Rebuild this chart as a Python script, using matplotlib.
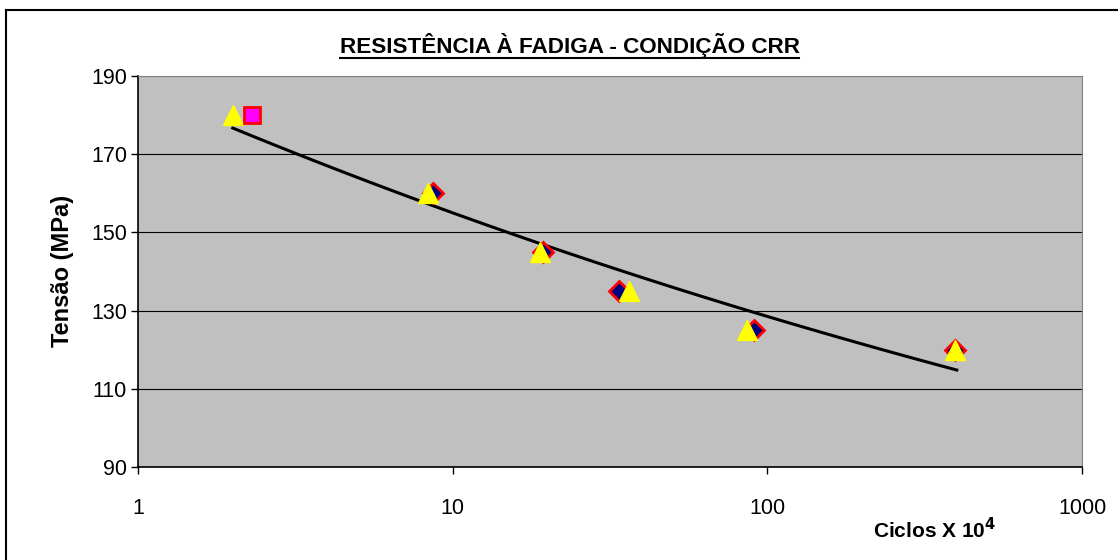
import numpy as np
import matplotlib
matplotlib.use("Agg")
import matplotlib.pyplot as plt
from matplotlib.lines import Line2D

plt.rcParams['font.family'] = ['Liberation Sans', 'DejaVu Sans']

# ciclos (x 10^4) e tensao (MPa)
diam_x = [8.66, 19.4, 33.8, 90.7, 394]
diam_y = [160, 145, 135, 125, 120]
tri_x = [2.0, 8.35, 19.0, 36.3, 86.1, 394]
tri_y = [180, 160, 145, 135, 125, 120]
sq_x = [2.3]
sq_y = [180]
# linha de tendencia (potencia) - extremos
trend_x = [2.0, 400]
trend_y = [176.7, 114.8]

y_ticks = [90, 110, 130, 150, 170, 190]
x_ticks = [1, 10, 100, 1000]

fig = plt.figure(figsize=(11.18, 5.60), dpi=100)
ax = fig.add_axes([138 / 1118, 1 - 467 / 560, (1082 - 138) / 1118, (467 - 76) / 560])
ax.set_facecolor('#C0C0C0')

# power trendline drawn as a curve through the fitted law
b = np.log(trend_y[1] / trend_y[0]) / np.log(trend_x[1] / trend_x[0])
a = trend_y[0] / trend_x[0] ** b
xt = np.logspace(np.log10(trend_x[0]), np.log10(trend_x[1]), 100)
ax.plot(xt, a * xt ** b, color='black', lw=2.2, zorder=3)

ax.plot(diam_x, diam_y, linestyle='none', marker='D', markersize=10,
        markerfacecolor='#000080', markeredgecolor='#FF0000', markeredgewidth=2, zorder=4)
ax.plot(tri_x, tri_y, linestyle='none', marker='^', markersize=15,
        markerfacecolor='#FFFF00', markeredgecolor='#FFFF00', zorder=5)
ax.plot(sq_x, sq_y, linestyle='none', marker='s', markersize=12,
        markerfacecolor='#FF00FF', markeredgecolor='#FF0000', markeredgewidth=2, zorder=6)

ax.set_xscale('log')
ax.set_xlim(1, 1000)
ax.set_ylim(90, 190)
ax.set_xticks(x_ticks)
ax.set_xticklabels([str(v) for v in x_ticks])
ax.xaxis.set_minor_locator(matplotlib.ticker.NullLocator())
ax.set_yticks(y_ticks)
ax.yaxis.grid(True, color='black', lw=0.8)
ax.set_axisbelow(True)
ax.tick_params(axis='both', labelsize=15.5, direction='out', length=5, width=1, color='black')
ax.tick_params(axis='x', pad=17)
ax.tick_params(axis='y', pad=3)

for s in ['top', 'right']:
    ax.spines[s].set_color('#808080')
for s in ['left', 'bottom']:
    ax.spines[s].set_color('black')
    ax.spines[s].set_linewidth(1.2)

fig.text(0.51, 1 - 45 / 560, 'RESISTÊNCIA À FADIGA - CONDIÇÃO CRR', ha='center', va='center',
         fontsize=16.2, fontweight='bold')
# underline for the title
fig.add_artist(Line2D([340 / 1118, 799 / 1118], [1 - 58 / 560, 1 - 58 / 560], color='black', lw=1.5))

fig.text(62 / 1118, 1 - 271 / 560, 'Tensão (MPa)', rotation=90, ha='center', va='center',
         fontsize=17, fontweight='bold')
fig.text(935 / 1118, 1 - 530 / 560, r'Ciclos X 10$^{\mathbf{4}}$', ha='center', va='center',
         fontsize=15, fontweight='bold')

# outer chart frame
fig.add_artist(Line2D([6 / 1118, 6 / 1118], [1 - 10 / 560, 0], color='black', lw=1.5))
fig.add_artist(Line2D([6 / 1118, 1], [1 - 10 / 560, 1 - 10 / 560], color='black', lw=1.5))

fig.savefig('out.png', dpi=100)
